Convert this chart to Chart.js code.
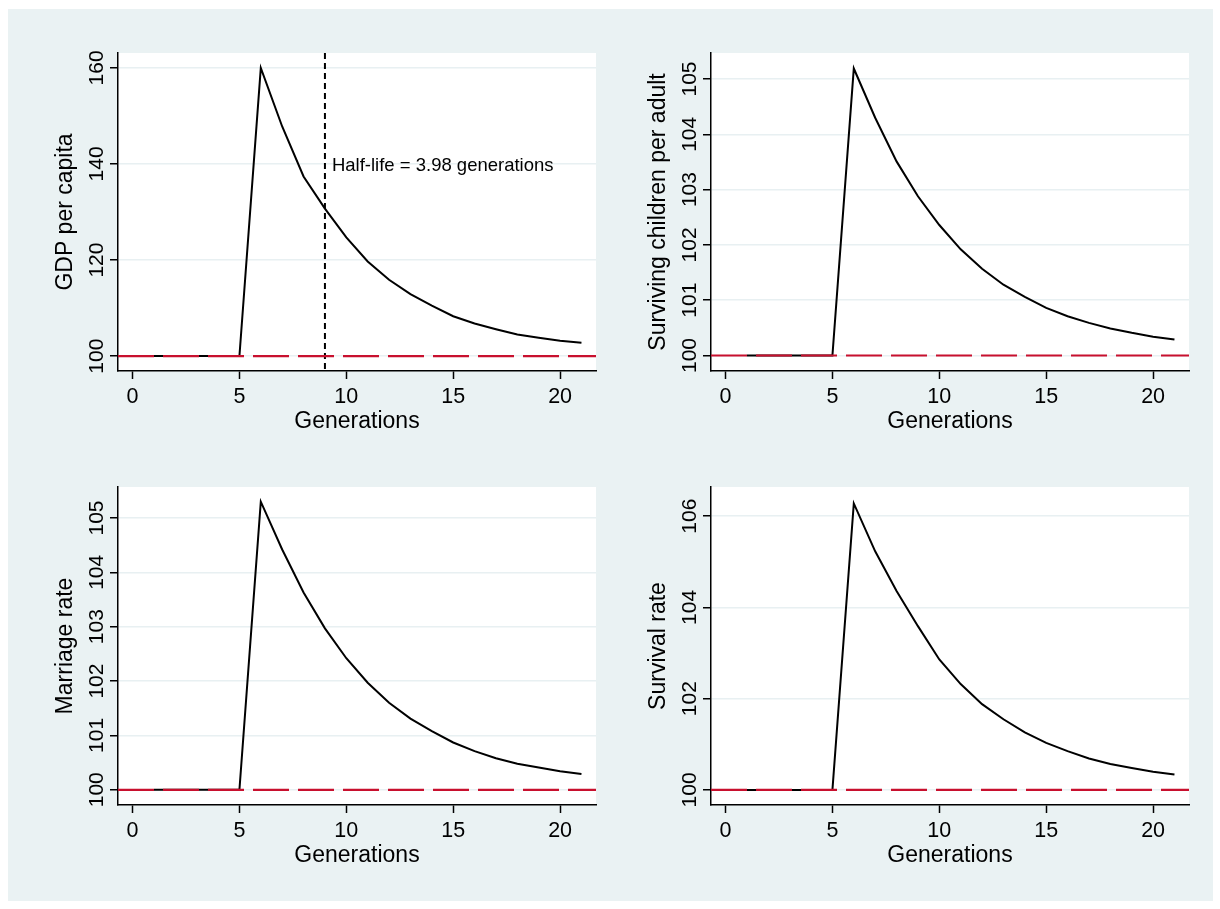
<!DOCTYPE html>
<html>
<head>
<meta charset="utf-8">
<script src="https://cdn.jsdelivr.net/npm/chart.js@4"></script>
<style>
  html, body { margin: 0; padding: 0; background: #fff; }
  #frame { position: absolute; left: 8px; top: 9px; width: 1205px; height: 892px; background: #eaf2f3; }
  canvas { position: absolute; }
</style>
</head>
<body>
<div id="frame"></div>
<canvas id="c1" width="602" height="446" style="left:8px;top:9px"></canvas>
<canvas id="c2" width="602" height="446" style="left:601px;top:9px"></canvas>
<canvas id="c3" width="602" height="446" style="left:8px;top:443px"></canvas>
<canvas id="c4" width="602" height="446" style="left:601px;top:443px"></canvas>
<script>
const generations = [1, 2, 3, 4, 5, 6, 7, 8, 9, 10, 11, 12, 13, 14, 15, 16, 17, 18, 19, 20, 21]
const gdpPerCapita = [100, 100, 100, 100, 100, 160, 147.8, 137.4, 130.7, 124.7, 119.7, 115.9, 112.9, 110.5, 108.3, 106.8, 105.6, 104.5, 103.8, 103.2, 102.8]
const survivingChildren = [100, 100, 100, 100, 100, 105.19, 104.3, 103.51, 102.88, 102.36, 101.92, 101.57, 101.28, 101.06, 100.86, 100.71, 100.59, 100.49, 100.41, 100.34, 100.29]
const marriageRate = [100, 100, 100, 100, 100, 105.3, 104.42, 103.63, 102.97, 102.42, 101.97, 101.6, 101.31, 101.08, 100.87, 100.71, 100.58, 100.48, 100.41, 100.34, 100.29]
const survivalRate = [100, 100, 100, 100, 100, 106.28, 105.23, 104.36, 103.59, 102.86, 102.32, 101.88, 101.55, 101.26, 101.03, 100.85, 100.69, 100.57, 100.48, 100.4, 100.34]

const xTicks = [0, 5, 10, 15, 20]
const gdpTicks = [100, 120, 140, 160]
const childrenTicks = [100, 101, 102, 103, 104, 105]
const marriageTicks = [100, 101, 102, 103, 104, 105]
const survivalTicks = [100, 102, 104, 106]

const baselineValue = 100
const halfLifeAt = 9
const noteAt = 140
const noteText = 'Half-life = 3.98 generations'

const FONT = "'Liberation Sans', Arial, Helvetica, sans-serif"

const stataPlugin = {
  id: 'stata',
  beforeDraw(chart) {
    const { ctx, chartArea: a } = chart
    ctx.save()
    ctx.fillStyle = '#fff'
    ctx.fillRect(a.left, a.top, a.right - a.left, a.bottom - a.top)
    ctx.restore()
  },
  beforeDatasetsDraw(chart, args, opts) {
    if (!opts.halfLife) return
    const { ctx, chartArea: a, scales } = chart
    const x = scales.x.getPixelForValue(opts.halfLife)
    ctx.save()
    ctx.strokeStyle = '#000'
    ctx.lineWidth = 2
    ctx.setLineDash([6, 4])
    ctx.beginPath()
    ctx.moveTo(x, a.top)
    ctx.lineTo(x, a.bottom)
    ctx.stroke()
    ctx.setLineDash([])
    ctx.fillStyle = '#000'
    ctx.font = '18.5px ' + FONT
    ctx.textAlign = 'left'
    ctx.textBaseline = 'middle'
    ctx.fillText(opts.note, x + 7, scales.y.getPixelForValue(opts.noteY) + 2)
    ctx.restore()
  },
  afterDatasetsDraw(chart) {
    const { ctx, chartArea: a, scales } = chart
    const y = scales.y.getPixelForValue(baselineValue)
    ctx.save()
    ctx.strokeStyle = '#c8102e'
    ctx.lineWidth = 2.2
    ctx.setLineDash([36, 9])
    ctx.beginPath()
    ctx.moveTo(a.left, y)
    ctx.lineTo(a.right, y)
    ctx.stroke()
    ctx.restore()
  },
  afterDraw(chart) {
    // rotated y tick labels, Stata style
    const { ctx, chartArea: a, scales } = chart
    ctx.save()
    ctx.fillStyle = '#000'
    ctx.font = '21px ' + FONT
    ctx.textAlign = 'center'
    ctx.textBaseline = 'alphabetic'
    scales.y.ticks.forEach((t) => {
      const y = scales.y.getPixelForValue(t.value)
      ctx.save()
      ctx.translate(a.left - 15, y)
      ctx.rotate(-Math.PI / 2)
      ctx.fillText(String(t.value), 0, 0)
      ctx.restore()
    })
    ctx.restore()
  },
}

function makePanel(id, yTitle, values, yMin, yMax, yTicks, extra) {
  const ctx = document.getElementById(id).getContext('2d')
  return new Chart(ctx, {
    type: 'line',
    data: {
      datasets: [
        {
          data: generations.map((g, i) => ({ x: g, y: values[i] })),
          borderColor: '#000',
          borderWidth: 2,
          pointRadius: 0,
          tension: 0,
          fill: false,
        },
      ],
    },
    options: {
      responsive: false,
      animation: false,
      devicePixelRatio: 1,
      layout: { padding: { left: 0, top: 44, right: 14, bottom: 0 } },
      plugins: {
        legend: { display: false },
        tooltip: { enabled: false },
        stata: extra || {},
      },
      scales: {
        x: {
          type: 'linear',
          min: -0.68,
          max: 21.68,
          afterBuildTicks: (s) => { s.ticks = xTicks.map((v) => ({ value: v })) },
          afterFit: (s) => { s.height = 84 },
          grid: { drawOnChartArea: false, drawTicks: true, tickLength: 8, tickColor: '#000', tickWidth: 1.5 },
          border: { display: true, color: '#000', width: 1.5 },
          ticks: { color: '#000', font: { family: FONT, size: 21.5, lineHeight: 1 }, padding: 7, maxRotation: 0, autoSkip: false },
          title: { display: true, text: 'Generations', color: '#000', font: { family: FONT, size: 23, lineHeight: 1 }, padding: { top: 0, bottom: 22 } },
        },
        y: {
          type: 'linear',
          min: yMin,
          max: yMax,
          afterBuildTicks: (s) => { s.ticks = yTicks.map((v) => ({ value: v })) },
          afterFit: (s) => { s.width = 110 },
          grid: { color: '#e8f0f2', lineWidth: 1.5, drawTicks: true, tickLength: 8, tickColor: '#000', tickWidth: 1.5 },
          border: { display: true, color: '#000', width: 1.5 },
          ticks: { display: false },
          title: { display: true, text: yTitle, color: '#000', font: { family: FONT, size: 23, lineHeight: 1 }, padding: { top: 46, bottom: 0 } },
        },
      },
    },
    plugins: [stataPlugin],
  })
}

makePanel('c1', 'GDP per capita', gdpPerCapita, 96.9, 163.1, gdpTicks, { halfLife: halfLifeAt, noteY: noteAt, note: noteText })
makePanel('c2', 'Surviving children per adult', survivingChildren, 99.72, 105.47, childrenTicks)
makePanel('c3', 'Marriage rate', marriageRate, 99.72, 105.57, marriageTicks)
makePanel('c4', 'Survival rate', survivalRate, 99.67, 106.64, survivalTicks)
</script>
</body>
</html>
